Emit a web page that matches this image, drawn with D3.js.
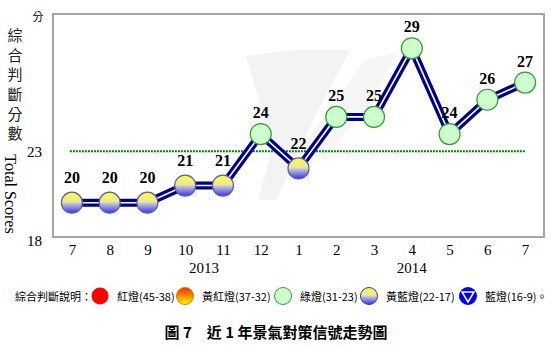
<!DOCTYPE html>
<html><head><meta charset="utf-8">
<script src="https://cdn.jsdelivr.net/npm/d3@7"></script>
<style>body{margin:0;background:#fff}svg{display:block}</style>
</head><body>
<svg id="c" width="558" height="348"></svg>
<script>
const months = ["7","8","9","10","11","12","1","2","3","4","5","6","7"];
const scores = [20,20,20,21,21,24,22,25,25,29,24,26,27];
const years = [{label:"2013", at:3.5},{label:"2014", at:9}];
const yTicks = [18,23];
const threshold = 23;
const yTitleCN = "綜合判斷分數";
const legendItems = [
  {type:"red", text:"紅燈(45-38)，"},
  {type:"yr", text:"黃紅燈(37-32)，"},
  {type:"green", text:"綠燈(31-23)，"},
  {type:"yb", text:"黃藍燈(22-17)，"},
  {type:"blue", text:"藍燈(16-9)。"}
];
const caption = "圖 7　近 1 年景氣對策信號走勢圖";

const svg = d3.select("#c");
const serif = "'Liberation Serif','Times New Roman',serif";
const cjk = "'Noto Sans CJK TC','Noto Sans CJK SC',sans-serif";

const defs = svg.append("defs");
const gYB = defs.append("linearGradient").attr("id","gYB").attr("x1",0).attr("y1",0).attr("x2",0).attr("y2",1);
gYB.append("stop").attr("offset","0%").attr("stop-color","#ffff30");
gYB.append("stop").attr("offset","45%").attr("stop-color","#e8e8a0");
gYB.append("stop").attr("offset","60%").attr("stop-color","#b0b0d8");
gYB.append("stop").attr("offset","100%").attr("stop-color","#3434f0");
const gYR = defs.append("linearGradient").attr("id","gYR").attr("x1",0).attr("y1",0).attr("x2",0).attr("y2",1);
gYR.append("stop").attr("offset","0%").attr("stop-color","#ff2000");
gYR.append("stop").attr("offset","100%").attr("stop-color","#ffff00");

const x = d3.scalePoint().domain(d3.range(months.length)).range([53,544]).padding(0.5);
const y = d3.scaleLinear().domain([18,31]).range([237,14]);

// watermark (faint logo)
const wm = svg.append("g").attr("fill","#f3f3f3");
wm.append("path").attr("d","M246,56 L292,50 L350,50 L318,110 L292,165 L276,200 L258,200 L272,150 L262,110 Z");
wm.append("path").attr("d","M300,150 L365,60 L398,52 L372,100 L325,160 Z").attr("fill","#f6f6f6");

// box
svg.append("rect").attr("x",53).attr("y",y(31)).attr("width",544-53).attr("height",y(18)-y(31))
  .attr("fill","none").attr("stroke","#a6a6a6").attr("stroke-width",2);

// threshold dotted line
svg.append("line").attr("x1",x(0)-2).attr("x2",x(12)).attr("y1",y(threshold)).attr("y2",y(threshold))
  .attr("stroke","#008000").attr("stroke-width",2).attr("stroke-dasharray","2,1");

// axes labels
const xAxis = d3.axisBottom(x).tickFormat(i=>months[i]).tickSize(0).tickPadding(0);
const gx = svg.append("g").attr("transform","translate(0,244)").call(xAxis);
gx.select(".domain").remove();
gx.selectAll("text").attr("font-family",serif).attr("font-size",15).attr("fill","#000").attr("dy","0.75em");

const yAxis = d3.axisLeft(y).tickValues(yTicks).tickSize(0).tickPadding(0);
const gy = svg.append("g").attr("transform","translate(42,0)").call(yAxis);
gy.select(".domain").remove();
gy.selectAll("text").attr("font-family",serif).attr("font-size",15).attr("fill","#000")
  .attr("dy",(d)=> d===18 ? "0.55em" : "0.32em");

years.forEach(yr=>{
  const px = x(Math.floor(yr.at)) + (yr.at%1)*x.step();
  svg.append("text").attr("x",px).attr("y",273).attr("text-anchor","middle")
    .attr("font-family",serif).attr("font-size",15).text(yr.label);
});

// y title
svg.append("text").attr("x",38).attr("y",21).attr("text-anchor","middle")
  .attr("font-family",cjk).attr("font-size",11).text("分");
svg.append("text").attr("x",15).attr("y",28)
  .style("writing-mode","vertical-rl").style("letter-spacing","4.6px")
  .attr("font-family",cjk).attr("font-size",15).attr("fill","#222").text(yTitleCN);
svg.append("text").attr("transform","translate(10,194) rotate(90)").attr("text-anchor","middle")
  .attr("dominant-baseline","central")
  .attr("font-family",serif).attr("font-size",16).text("Total Scores");

// line (double)
const line = d3.line().x((d,i)=>x(i)).y(d=>y(d));
svg.append("path").datum(scores).attr("d",line).attr("fill","none")
  .attr("stroke","#00008c").attr("stroke-width",8).attr("stroke-linejoin","miter");
svg.append("path").datum(scores).attr("d",line).attr("fill","none")
  .attr("stroke","#ffffff").attr("stroke-width",1.6).attr("stroke-linejoin","miter");

// points
svg.selectAll("circle.pt").data(scores).join("circle").attr("class","pt")
  .attr("cx",(d,i)=>x(i)).attr("cy",d=>y(d)).attr("r",10.5)
  .attr("fill",d=> d>=23 ? "#ccffcc" : "url(#gYB)")
  .attr("stroke",d=> d>=23 ? "#3a9a3a" : "#5a5ab0").attr("stroke-width",1.2);

svg.selectAll("text.val").data(scores).join("text").attr("class","val")
  .attr("x",(d,i)=>x(i)).attr("y",d=>y(d)-(d>=23 ? 16 : 19.5))
  .attr("text-anchor","middle").attr("font-family",serif).attr("font-weight","bold")
  .attr("font-size",16).text(d=>d);

// legend
const lg = svg.append("g");
lg.append("text").attr("x",15).attr("y",301).attr("font-family",cjk).attr("font-size",11).text("綜合判斷說明：");
const lx = [100,185,283,369,468];
legendItems.forEach((it,i)=>{
  const cx = lx[i], cy = 296;
  if(it.type==="red") lg.append("circle").attr("cx",cx).attr("cy",cy).attr("r",8.5).attr("fill","#ff0000");
  if(it.type==="yr") lg.append("circle").attr("cx",cx).attr("cy",cy).attr("r",8.5).attr("fill","url(#gYR)").attr("stroke","#d08000").attr("stroke-width",1);
  if(it.type==="green") lg.append("circle").attr("cx",cx).attr("cy",cy).attr("r",8.5).attr("fill","#ccffcc").attr("stroke","#3a9a3a").attr("stroke-width",1);
  if(it.type==="yb") lg.append("circle").attr("cx",cx).attr("cy",cy).attr("r",8.5).attr("fill","url(#gYB)").attr("stroke","#3030d0").attr("stroke-width",1);
  if(it.type==="blue"){
    lg.append("circle").attr("cx",cx).attr("cy",cy).attr("r",9).attr("fill","#0000ff");
    lg.append("path").attr("d",`M${cx-6},${cy-4} L${cx+6},${cy-4} L${cx},${cy+6} Z`).attr("fill","#0000ff").attr("stroke","#fff").attr("stroke-width",1.5);
  }
  lg.append("text").attr("x",cx+17).attr("y",301).attr("font-family",cjk).attr("font-size",11).text(it.text);
});

// caption
svg.append("text").attr("x",276).attr("y",338).attr("text-anchor","middle")
  .attr("font-family",cjk).attr("font-weight","bold").attr("font-size",15).attr("xml:space","preserve").text(caption);
</script>
</body></html>
